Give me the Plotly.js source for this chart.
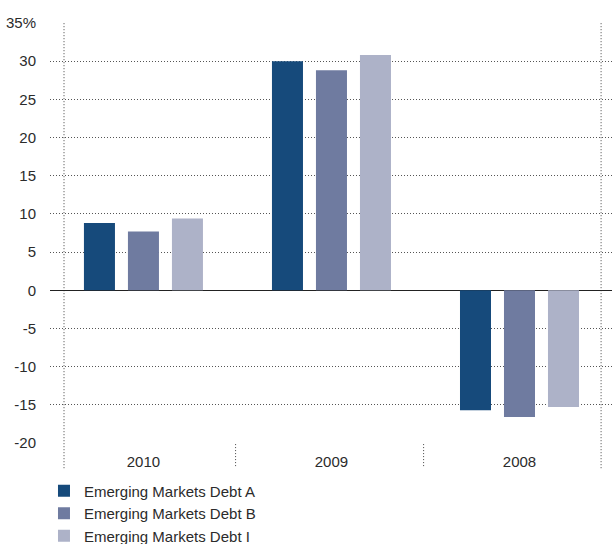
<!DOCTYPE html>
<html>
<head>
<meta charset="utf-8">
<script src="https://cdn.plot.ly/plotly-3.0.1.min.js"></script>
<style>html,body{margin:0;padding:0;background:#fff;}#chart{width:612px;height:544px;}</style>
</head>
<body>
<div id="chart"></div>
<script>
const categories = ["2010", "2009", "2008"];
const seriesNames = ["Emerging Markets Debt A", "Emerging Markets Debt B", "Emerging Markets Debt I"];
const debtA = [8.8, 30.0, -15.7];
const debtB = [7.7, 28.8, -16.6];
const debtI = [9.4, 30.8, -15.3];
const yTickVals = [35, 30, 25, 20, 15, 10, 5, 0, -5, -10, -15, -20];
const yTickText = ["35%", "30", "25", "20", "15", "10", "5", "0", "-5", "-10", "-15", "-20"];
const colors = ["#164a7b", "#6f7ba0", "#adb2c8"];

const seriesValues = [debtA, debtB, debtI];
const traces = seriesValues.map((vals, i) => ({
  type: "bar",
  x: categories,
  y: vals,
  name: seriesNames[i],
  legendgroup: "g" + i,
  marker: { color: colors[i], line: { width: 0 } },
  hoverinfo: "skip"
}));

const dotted = "1px,2px";
const vline = (x, y0, y1) => ({
  type: "line", xref: "x", yref: "paper", x0: x, x1: x, y0: y0, y1: y1,
  line: { color: "#444", width: 1, dash: dotted }, layer: "below"
});

const layout = {
  width: 612, height: 544,
  margin: { l: 50, r: 0, t: 23, b: 101, autoexpand: false },
  paper_bgcolor: "#fff", plot_bgcolor: "#fff",
  font: { family: "Liberation Sans, Arial, sans-serif", size: 15, color: "#2b2b2b" },
  barmode: "group",
  bargap: 0.298,
  bargroupgap: 0.295,
  showlegend: true,
  legend: {
    x: -0.0107, xanchor: "left", y: -0.075, yanchor: "top",
    orientation: "v", traceorder: "grouped", tracegroupgap: 0,
    font: { size: 15, color: "#2b2b2b" }, bgcolor: "rgba(0,0,0,0)"
  },
  xaxis: {
    type: "category",
    range: [-0.497, 2.492],
    showgrid: false, zeroline: false, showline: false, ticks: "",
    ticklabelstandoff: 8,
    tickfont: { size: 15, color: "#2b2b2b" }
  },
  yaxis: {
    range: [-20, 35],
    tickvals: yTickVals, ticktext: yTickText,
    showgrid: true, gridcolor: "#555", gridwidth: 1, griddash: dotted,
    zeroline: true, zerolinecolor: "#222", zerolinewidth: 1.5,
    showline: false, ticks: "",
    ticklabelstandoff: 13,
    tickfont: { size: 15, color: "#2b2b2b" }
  },
  shapes: [
    vline(-0.4225, -0.06, 1.003),
    vline(0.49, -0.055, 0),
    vline(1.49, -0.055, 0),
    vline(2.434, -0.06, 1.003)
  ]
};

Plotly.newPlot("chart", traces, layout, { displayModeBar: false, staticPlot: true });
</script>
</body>
</html>
